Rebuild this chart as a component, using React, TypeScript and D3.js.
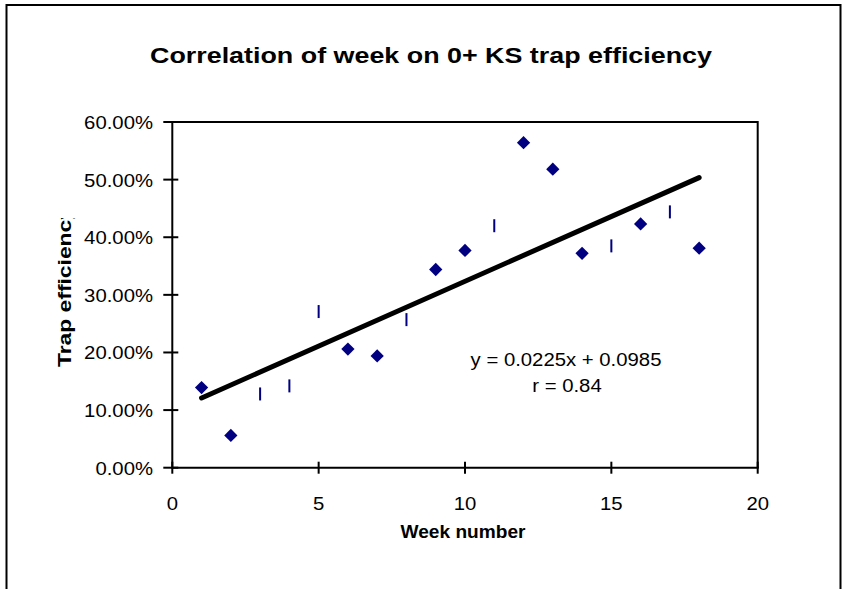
import React from "react";
import * as d3 from "d3";

const diamondWeeks = [1, 2, 6, 7, 9, 10, 12, 13, 14, 16, 18];
const diamondValues = [0.139, 0.056, 0.206, 0.194, 0.344, 0.377, 0.564, 0.518, 0.372, 0.423, 0.381];
const barWeeks = [3, 4, 5, 8, 11, 15, 17];
const barValues = [0.128, 0.142, 0.271, 0.257, 0.42, 0.385, 0.444];
const yTicks = [0, 0.1, 0.2, 0.3, 0.4, 0.5, 0.6];
const xTicks = [0, 5, 10, 15, 20];
const slope = 0.0225;
const intercept = 0.0985;
const trendRange = [1, 18];
const titleText = "Correlation of week on 0+ KS trap efficiency";
const xTitle = "Week number";
const yTitle = "Trap efficiency";
const eqText = "y = 0.0225x + 0.0985";
const rText = "r = 0.84";

const W = 846;
const H = 589;
const L = 172.3, R = 757.7, T = 122, B = 467.7;
const NAVY = "#000080";
const FONT = "'Liberation Sans', Arial, sans-serif";

export default function App() {
  const x = d3.scaleLinear().domain([0, 20]).range([L, R]);
  const y = d3.scaleLinear().domain([0, 0.6]).range([B, T]);
  const fmt = (v: number) => (v * 100).toFixed(2) + "%";
  const trend = d3.line<number>().x((d) => x(d)).y((d) => y(slope * d + intercept));
  const sx = 1.07;
  const fs = 19;
  const diamond = d3.symbol().type(d3.symbolDiamond2).size(112)();
  return (
    <svg width={W} height={H} style={{ position: "fixed", left: 0, top: 0, background: "#fff" }} fontFamily={FONT}>
      <rect x={0} y={0} width={W} height={H} fill="#fff" />
      <path d={`M6.5,${H + 10} V5 H840.5 V${H + 10}`} fill="none" stroke="#000" strokeWidth={2} />
      <text x={431} y={63} textAnchor="middle" fontSize={22} fontWeight="bold" textLength={562} lengthAdjust="spacingAndGlyphs">{titleText}</text>
      {/* plot frame */}
      <path d={`M${L},${T} H${R} V${B}`} fill="none" stroke="#000" strokeWidth={2} />
      <line x1={L} x2={R + 1} y1={B} y2={B} stroke="#000" strokeWidth={2} />
      <line x1={L} x2={L} y1={T - 1} y2={B + 1} stroke="#000" strokeWidth={2} />
      {yTicks.map((t) => (
        <g key={"y" + t}>
          <line x1={L - 9} x2={L + 6} y1={y(t)} y2={y(t)} stroke="#000" strokeWidth={2} />
          <text transform={`translate(153,${y(t) + 7}) scale(${sx},1)`} textAnchor="end" fontSize={fs}>{fmt(t)}</text>
        </g>
      ))}
      {xTicks.map((t) => (
        <g key={"x" + t}>
          <line x1={x(t)} x2={x(t)} y1={B - 6} y2={B + 6} stroke="#000" strokeWidth={2} />
          <text transform={`translate(${x(t)},510) scale(${sx},1)`} textAnchor="middle" fontSize={fs}>{t}</text>
        </g>
      ))}
      <text x={463} y={538} textAnchor="middle" fontSize={18} fontWeight="bold" textLength={125} lengthAdjust="spacingAndGlyphs">{xTitle}</text>
      <defs>
        <clipPath id="ylab">
          <rect x={0} y={218} width={120} height={300} />
        </clipPath>
      </defs>
      <g clipPath="url(#ylab)">
        <text transform={`translate(71,367) rotate(-90)`} fontSize={18} fontWeight="bold" textLength={160} lengthAdjust="spacingAndGlyphs">{yTitle}</text>
      </g>
      {barWeeks.map((w, i) => (
        <rect key={"b" + w} x={x(w) - 1} y={y(barValues[i]) - 6.5} width={2} height={13} fill={NAVY} />
      ))}
      {diamondWeeks.map((w, i) => (
        <path key={"d" + w} d={diamond!} transform={`translate(${x(w)},${y(diamondValues[i])})`} fill={NAVY} />
      ))}
      <path d={trend(trendRange)!} fill="none" stroke="#000" strokeWidth={5} strokeLinecap="round" />
      <text transform={`translate(566,366) scale(${sx},1)`} textAnchor="middle" fontSize={fs}>{eqText}</text>
      <text transform={`translate(567,392) scale(${sx},1)`} textAnchor="middle" fontSize={fs}>{rText}</text>
    </svg>
  );
}
